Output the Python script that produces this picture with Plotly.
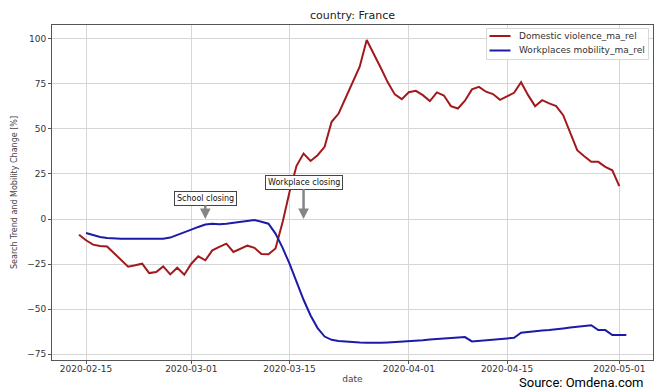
import pandas as pd
import plotly.graph_objects as go

# ---- data ----
dv_start = "2020-02-14"
domestic_violence = [
    -8.7, -11.8, -14.2, -15.0, -15.2, -19.1, -22.8, -26.5, -25.7, -24.8,
    -30.0, -29.4, -26.3, -30.7, -27.0, -30.9, -24.8, -20.7, -22.9, -17.4,
    -15.5, -13.7, -18.3, -16.5, -14.8, -16.0, -19.4, -19.6, -16.3, -2.0,
    15.0, 29.5, 36.3, 32.2, 35.4, 40.0, 53.9, 58.5, 66.9, 76.1,
    84.5, 99.3, 91.9, 83.9, 75.8, 69.1, 66.5, 70.3, 71.1, 68.7,
    65.4, 70.2, 68.5, 62.6, 61.3, 65.6, 71.9, 73.3, 70.6, 69.3,
    66.1, 68.2, 70.0, 75.9, 68.7, 62.6, 65.9, 64.1, 62.6, 57.6,
    47.4, 38.2, 34.8, 31.7, 31.7, 28.9, 27.0, 18.2,
]

wm_start = "2020-02-15"
workplaces_mobility = [
    -7.8, -9.1, -10.0, -10.5, -10.9, -10.9, -10.9, -10.9, -10.9, -10.9,
    -10.9, -10.9, -10.3, -8.7, -7.4, -5.9, -4.4, -3.1, -2.6, -2.9,
    -2.6, -2.0, -1.5, -0.9, -0.6, -1.5, -2.6, -8.1, -15.9, -24.8,
    -35.4, -44.8, -53.5, -60.5, -65.2, -67.0, -67.6, -68.0, -68.3, -68.5,
    -68.7, -68.9, -68.7, -68.5, -68.3, -68.1, -67.8, -67.5, -67.2, -66.8,
    -66.6, -66.3, -66.0, -65.7, -65.5, -67.9, -67.6, -67.4, -67.0, -66.7,
    -66.5, -65.9, -63.1, -62.6, -62.2, -61.9, -61.6, -61.3, -60.7, -60.2,
    -59.8, -59.3, -58.9, -61.6, -61.6, -64.4, -64.4, -64.4,
]

series_names = ["Domestic violence_ma_rel", "Workplaces mobility_ma_rel"]

events = ["School closing", "Workplace closing"]
event_dates = ["2020-03-03", "2020-03-17"]
event_text_y = [11.5, 20.5]

x_tick_labels = ["2020-02-15", "2020-03-01", "2020-03-15",
                 "2020-04-01", "2020-04-15", "2020-05-01"]
y_tick_values = [-75, -50, -25, 0, 25, 50, 75, 100]

dv_dates = pd.date_range(dv_start, periods=len(domestic_violence), freq="D")
wm_dates = pd.date_range(wm_start, periods=len(workplaces_mobility), freq="D")

RED = "#a3191b"
BLUE = "#1b1ba8"
COLORS = [RED, BLUE]
FONT = "DejaVu Sans"

# the page body keeps its default 8px margin, so the figure is made 8px
# smaller and every pixel position below is given in window coordinates
OFF = 8
W, H = 665 - OFF, 391 - OFF
PLOT_L, PLOT_R, PLOT_T, PLOT_B = 52, 653, 25, 360
ML = PLOT_L - OFF
MR = 665 - PLOT_R
MT = PLOT_T - OFF
MB = 391 - PLOT_B
PW, PH = W - ML - MR, H - MT - MB


def px(x):
    return (x - PLOT_L) / PW


def py(y):
    return (PLOT_B - y) / PH


fig = go.Figure()
for name, dates, vals, col in zip(series_names, [dv_dates, wm_dates],
                                  [domestic_violence, workplaces_mobility], COLORS):
    fig.add_trace(go.Scatter(x=dates, y=vals, mode="lines", name=name,
                             line=dict(color=col, width=2), showlegend=False))

for label, d, ty in zip(events, event_dates, event_text_y):
    fig.add_annotation(x=d, y=0, xref="x", yref="y",
                       ax=d, ay=ty, axref="x", ayref="y",
                       text=label, showarrow=True,
                       arrowhead=2, arrowsize=0.85, arrowwidth=2.5,
                       arrowcolor="#858585",
                       font=dict(family=FONT, size=8, color="#111"),
                       bgcolor="white", bordercolor="#444", borderwidth=1,
                       borderpad=2)

# legend drawn as a box in the top-right corner
shapes = [dict(type="rect", xref="paper", yref="paper",
               x0=px(486.5), x1=px(648.5), y0=py(59.5), y1=py(28.5),
               line=dict(color="#d8d8d8", width=1), fillcolor="rgba(255,255,255,0.9)",
               layer="above")]
for i, (name, col) in enumerate(zip(series_names, COLORS)):
    yc = 36 + 14.5 * i
    shapes.append(dict(type="line", xref="paper", yref="paper",
                       x0=px(489.5), x1=px(510.5), y0=py(yc), y1=py(yc),
                       line=dict(color=col, width=2), layer="above"))
    fig.add_annotation(text=name, xref="paper", yref="paper",
                       x=px(516.5), y=py(yc), xanchor="left", yanchor="middle",
                       showarrow=False,
                       font=dict(family=FONT, size=9, color="#333"))
# light frame line at the right edge of the picture
shapes.append(dict(type="line", xref="paper", yref="paper",
                   x0=px(660), x1=px(660), y0=py(391), y1=py(OFF),
                   line=dict(color="#e2e2e2", width=2)))

fig.add_annotation(text="Source: Omdena.com", xref="paper", yref="paper",
                   x=px(646), y=py(382), xanchor="right", yanchor="middle",
                   showarrow=False,
                   font=dict(family="Roboto", size=13, color="black"))

x0 = pd.Timestamp(wm_start) - pd.Timedelta(days=4.85)
x1 = pd.Timestamp(wm_start) + pd.Timedelta(days=80.8)

fig.update_layout(
    width=W, height=H,
    margin=dict(l=ML, r=MR, t=MT, b=MB, autoexpand=False),
    paper_bgcolor="white", plot_bgcolor="white",
    font=dict(family=FONT, size=9, color="#333"),
    title=dict(text="country: France", x=(352.5 - OFF) / W,
               xanchor="center", xref="container",
               y=1 - (15.5 - OFF) / H, yanchor="middle", yref="container",
               font=dict(family=FONT, size=11, color="#222"),
               automargin=False),
    showlegend=False,
    shapes=shapes,
)

fig.update_xaxes(
    range=[x0, x1], tickvals=x_tick_labels, ticktext=x_tick_labels,
    showgrid=True, gridcolor="#d6d6d6", gridwidth=1,
    showline=True, linecolor="#555", linewidth=1, mirror=True,
    ticks="outside", ticklen=3, tickcolor="#555", automargin=False,
    ticklabelstandoff=-3,
    title=dict(text="date", font=dict(family=FONT, size=9, color="#444"), standoff=2),
    zeroline=False,
)
fig.update_yaxes(
    range=[-78.2, 107.6], tickvals=y_tick_values,
    showgrid=True, gridcolor="#d6d6d6", gridwidth=1,
    showline=True, linecolor="#555", linewidth=1, mirror=True,
    ticks="outside", ticklen=3, tickcolor="#555", automargin=False,
    title=dict(text="Search Trend and Mobility Change [%]",
               font=dict(family=FONT, size=8, color="#444"), standoff=8),
    zeroline=False,
)

fig.write_html("out.html")
